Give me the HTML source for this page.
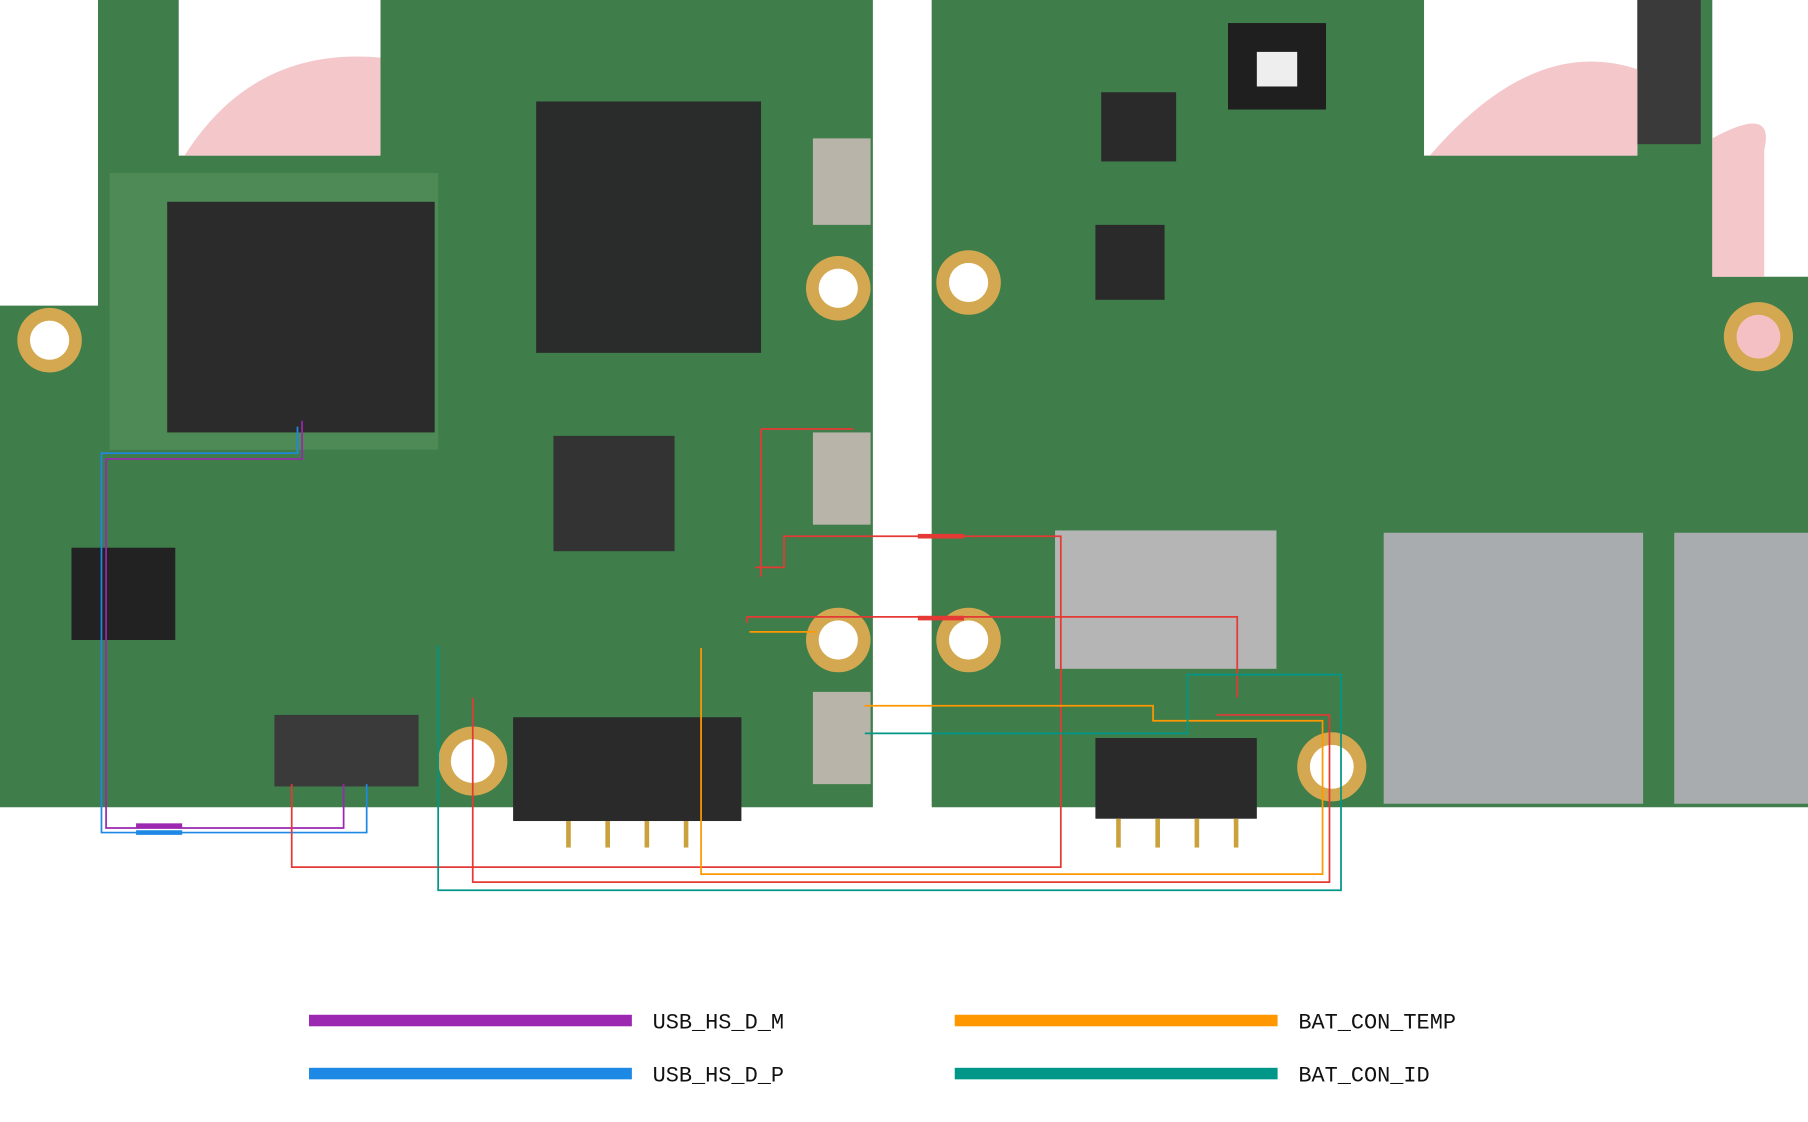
<!DOCTYPE html>
<html><head><meta charset="utf-8"><style>
html,body{margin:0;padding:0;background:#fff;}
svg{display:block;}
</style></head><body>
<svg width="1808" height="1122" viewBox="0 0 1568 973" preserveAspectRatio="none" xmlns="http://www.w3.org/2000/svg">
<rect width="1568" height="973" fill="#fff"/>
<!-- left board -->
<path d="M85 0 H155 V135 H330 V0 H757 V700 H0 V265 H85 Z" fill="#3f7d4a"/>
<path d="M95 150 H380 V390 H95 Z" fill="#4d8a55"/>
<rect x="145" y="175" width="232" height="200" fill="#2b2b2b"/>
<rect x="465" y="88" width="195" height="218" fill="#2a2c2c"/>
<rect x="480" y="378" width="105" height="100" fill="#333"/>
<rect x="62" y="475" width="90" height="80" fill="#222"/>
<rect x="445" y="622" width="198" height="90" fill="#2a2a2a"/>
<rect x="238" y="620" width="125" height="62" fill="#3a3a3a"/>
<rect x="705" y="120" width="50" height="75" fill="#b9b4aa"/>
<rect x="705" y="375" width="50" height="80" fill="#b9b4aa"/>
<rect x="705" y="600" width="50" height="80" fill="#b9b4aa"/>
<circle cx="43" cy="295" r="28" fill="#d4a850"/><circle cx="43" cy="295" r="17" fill="#fff"/>
<circle cx="727" cy="250" r="28" fill="#d4a850"/><circle cx="727" cy="250" r="17" fill="#fff"/>
<circle cx="727" cy="555" r="28" fill="#d4a850"/><circle cx="727" cy="555" r="17" fill="#fff"/>
<circle cx="410" cy="660" r="30" fill="#d4a850"/><circle cx="410" cy="660" r="19" fill="#fff"/>
<!-- right board -->
<path d="M823 0 H1235 V135 H1420 V0 H1485 V240 H1568 V700 H808 V0 Z" fill="#3f7d4a"/>
<rect x="1065" y="20" width="85" height="75" fill="#1f1f1f"/>
<rect x="1090" y="45" width="35" height="30" fill="#eee"/>
<rect x="1420" y="0" width="55" height="125" fill="#3a3a3a"/>
<rect x="950" y="195" width="60" height="65" fill="#2a2a2a"/>
<rect x="955" y="80" width="65" height="60" fill="#2a2a2a"/>
<rect x="915" y="460" width="192" height="120" fill="#b5b5b5"/>
<rect x="950" y="640" width="140" height="70" fill="#2a2a2a"/>
<rect x="1200" y="462" width="225" height="235" fill="#a9acae"/>
<rect x="1452" y="462" width="116" height="235" fill="#a9acae"/>
<circle cx="840" cy="245" r="28" fill="#d4a850"/><circle cx="840" cy="245" r="17" fill="#fff"/>
<circle cx="840" cy="555" r="28" fill="#d4a850"/><circle cx="840" cy="555" r="17" fill="#fff"/>
<circle cx="1155" cy="665" r="30" fill="#d4a850"/><circle cx="1155" cy="665" r="19" fill="#fff"/>
<circle cx="1525" cy="292" r="30" fill="#d4a850"/><circle cx="1525" cy="292" r="19" fill="#f4c0c4"/>
<!-- watermark pink -->
<path d="M160 135 Q220 40 330 50 V135 Z" fill="#f1b9bd" opacity="0.8"/>
<path d="M1240 135 Q1330 30 1420 60 V135 Z" fill="#f1b9bd" opacity="0.8"/>
<path d="M1485 120 Q1540 90 1530 130 V240 H1485 Z" fill="#f1b9bd" opacity="0.8"/>
<!-- connector pins -->
<g stroke="#c9a13d" stroke-width="4"><line x1="493" y1="712" x2="493" y2="735"/><line x1="527" y1="712" x2="527" y2="735"/><line x1="561" y1="712" x2="561" y2="735"/><line x1="595" y1="712" x2="595" y2="735"/>
<line x1="970" y1="710" x2="970" y2="735"/><line x1="1004" y1="710" x2="1004" y2="735"/><line x1="1038" y1="710" x2="1038" y2="735"/><line x1="1072" y1="710" x2="1072" y2="735"/></g>
<!-- traces -->
<g fill="none" stroke-width="1.5">
<path d="M262 365 V398 H92 V718 H298 V680" stroke="#9c27b0"/>
<path d="M258 370 V393 H88 V722 H318 V680" stroke="#1e88e5"/>
<path d="M253 680 V752 H920 V465 H680 V492 H655" stroke="#e53935"/>
<path d="M410 605 V765 H1153 V620 H1055" stroke="#e53935"/>
<path d="M648 540 V535 H1073 V605" stroke="#e53935"/>
<path d="M660 372 H740 M660 372 V500" stroke="#e53935"/>
<path d="M608 562 V758 H1147 V625 H1000 V612 H750" stroke="#ff9800"/>
<path d="M708 548 H650" stroke="#ff9800"/>
<path d="M380 560 V772 H1163 V585 H1030 V636 H750" stroke="#009688"/>
</g>
<rect x="118" y="714" width="40" height="4" fill="#9c27b0"/>
<rect x="118" y="720" width="40" height="4" fill="#1e88e5"/>
<rect x="796" y="463" width="40" height="4" fill="#e53935"/>
<rect x="796" y="534" width="40" height="4" fill="#e53935"/>
<!-- legend -->
<rect x="268" y="880" width="280" height="10" fill="#9c27b0"/>
<rect x="268" y="926" width="280" height="10" fill="#1e88e5"/>
<rect x="828" y="880" width="280" height="10" fill="#ff9800"/>
<rect x="828" y="926" width="280" height="10" fill="#009688"/>
<g font-family="Liberation Mono, monospace" font-size="19" fill="#111">
<text x="566" y="892">USB_HS_D_M</text>
<text x="566" y="938">USB_HS_D_P</text>
<text x="1126" y="892">BAT_CON_TEMP</text>
<text x="1126" y="938">BAT_CON_ID</text>
</g>
</svg>
</body></html>
